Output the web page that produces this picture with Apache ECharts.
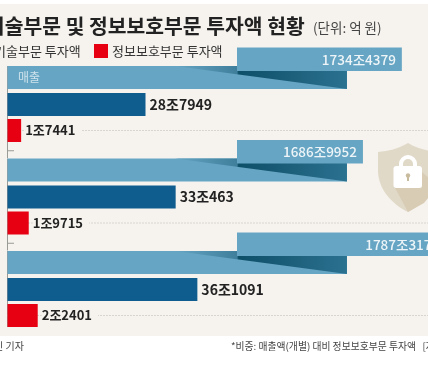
<!DOCTYPE html>
<html>
<head>
<meta charset="utf-8">
<style>
  html, body { margin: 0; padding: 0; background: #fff; }
  #chart { width: 428px; height: 374px; }
</style>
</head>
<body>
<div id="chart"></div>
<script src="https://cdn.jsdelivr.net/npm/echarts@6/dist/echarts.min.js"></script>
<script>
// values in 조 (1조 = 10000억)
const years = ['A', 'B', 'C'];
const salesValues = [1734.4379, 1686.9952, 1787.3174];
const salesLabels = ['1734조4379', '1686조9952', '1787조3174'];
const itValues = [28.7949, 33.0463, 36.1091];
const itLabels = ['28조7949', '33조463', '36조1091'];
const securityValues = [1.7441, 1.9715, 2.2401];
const securityLabels = ['1조7441', '1조9715', '2조2401'];

const FONT = '"Noto Sans CJK KR", "Noto Sans", sans-serif';
const LIGHT = '#66a5c3', DARK = '#0f5d8e', RED = '#e60012';

// the source draws each kind of bar on its own truncated scale
const SALES_MIN = 1253.5, SALES_MAX = 1863.3;
const BOX_START = 1533.4, RIBBON_END = 1667.5;
const IT_MIN = 9.33, IT_MAX = 79.85;
const SEC_MIN = 1.336, SEC_MAX = 16.3;

let chart = echarts.init(document.getElementById('chart'));

function renderSales(params, api) {
  const cat = api.value(1);
  const y = api.coord([SALES_MIN, cat])[1];
  const left = api.coord([SALES_MIN, cat])[0];
  const boxL = api.coord([BOX_START, cat])[0];
  const boxR = api.coord([api.value(0), cat])[0];
  const ribR = api.coord([RIBBON_END, cat])[0];
  const foldL = boxL - 62;
  const children = [
    { type: 'rect', shape: { x: left, y: y - 38.5, width: ribR - left, height: 23 }, style: { fill: LIGHT } },
    { type: 'polygon', shape: { points: [[foldL, y - 38.5], [ribR, y - 38.5], [ribR, y - 15.5]] },
      style: { fill: new echarts.graphic.LinearGradient(foldL, 0, ribR, 0, [
        { offset: 0, color: LIGHT },
        { offset: 0.36, color: '#3f7f9c' },
        { offset: 0.37, color: '#0e4f68' },
        { offset: 1, color: '#2b7190' }
      ], true) } },
    { type: 'rect', shape: { x: boxL, y: y - 57, width: boxR - boxL, height: 23.5 }, style: { fill: LIGHT } },
    { type: 'text', style: { text: salesLabels[params.dataIndex], x: boxR - 6, y: y - 45, align: 'right', verticalAlign: 'middle',
      fill: '#eef5f8', font: '500 13.5px ' + FONT } }
  ];
  if (params.dataIndex === 0) {
    children.push({ type: 'text', style: { text: '매출', x: 18, y: y - 27, align: 'left', verticalAlign: 'middle',
      fill: '#cfe3ec', font: '12px ' + FONT } });
  }
  return { type: 'group', children: children };
}

function renderIt(params, api) {
  const cat = api.value(1);
  const base = api.coord([IT_MIN, cat]);
  const end = api.coord([api.value(0), cat]);
  const y = base[1];
  const children = [
    { type: 'line', shape: { x1: base[0], y1: y - 38.5, x2: base[0], y2: params.dataIndex < 2 ? y + 53.5 : y + 37.5 },
      style: { stroke: '#9a9a96', lineWidth: 1 } },
    { type: 'rect', shape: { x: base[0], y: y - 11.5, width: end[0] - base[0], height: 23 }, style: { fill: DARK } },
    { type: 'text', style: { text: itLabels[params.dataIndex], x: end[0] + 4, y: y, align: 'left', verticalAlign: 'middle',
      fill: '#222', font: 'bold 14px ' + FONT } }
  ];
  if (params.dataIndex < 2) {
    children.push({ type: 'line', shape: { x1: base[0], y1: y + 46.25, x2: base[0] + 6.5, y2: y + 46.25 },
      style: { stroke: '#9a9a96', lineWidth: 1 } });
  }
  return { type: 'group', children: children };
}

function renderSecurity(params, api) {
  const cat = api.value(1);
  const base = api.coord([SEC_MIN, cat]);
  const end = api.coord([api.value(0), cat]);
  const y = base[1] + 26;
  return {
    type: 'group',
    children: [
      { type: 'line', shape: { x1: base[0], y1: y, x2: 428, y2: y },
        style: { stroke: '#b9b6b0', lineWidth: 1, lineDash: [1, 2] } },
      { type: 'rect', shape: { x: base[0], y: y - 11.5, width: end[0] - base[0], height: 23 }, style: { fill: RED } },
      { type: 'text', style: { text: securityLabels[params.dataIndex], x: end[0] + 4, y: y, align: 'left', verticalAlign: 'middle',
        fill: '#222', font: 'bold 13px ' + FONT, backgroundColor: '#f6f3ee', padding: [0, 6, 0, 0] } }
    ]
  };
}

// shield and lock icon
function renderIcon() {
  return {
    type: 'group',
    children: [
      { type: 'path', shape: { pathData: 'M408 143 C398 149 388 151 378 152 L378 172 C379 190 392 204 408 212 C424 204 437 190 438 172 L438 152 C428 151 418 149 408 143 Z', x: 378, y: 143, width: 60, height: 69 },
        style: { fill: '#e1d9c8' } },
      { type: 'polygon', shape: { points: [[422, 172], [438, 186], [424, 203], [408, 212], [395, 188], [422, 188]] },
        style: { fill: '#d8ccb5' } },
      { type: 'path', shape: { pathData: 'M399 167 L399 164 A9 9 0 0 1 417 164 L417 167 L413 167 L413 164 A5 5 0 0 0 403 164 L403 167 Z', x: 399, y: 155, width: 18, height: 12 },
        style: { fill: '#fff' } },
      { type: 'rect', shape: { x: 393.5, y: 166, width: 28.5, height: 22, r: 3 }, style: { fill: '#fff' } },
      { type: 'circle', shape: { cx: 408, cy: 175.5, r: 2.2 }, style: { fill: '#c9bb9e' } },
      { type: 'rect', shape: { x: 407, y: 176, width: 2, height: 5 }, style: { fill: '#c9bb9e' } }
    ]
  };
}

function rows(values) {
  return values.map(function (v, i) { return [v, i]; });
}

let options = {
  animation: false,
  backgroundColor: '#fff',
  grid: { left: 7.5, top: 58.25, width: 500, height: 277.5, outerBoundsMode: 'none' },
  xAxis: [
    { type: 'value', show: false, min: SALES_MIN, max: SALES_MAX },
    { type: 'value', show: false, min: IT_MIN, max: IT_MAX },
    { type: 'value', show: false, min: SEC_MIN, max: SEC_MAX }
  ],
  yAxis: { type: 'category', show: false, inverse: true, data: years },
  graphic: [
    { type: 'rect', z: -10, shape: { x: 0, y: 4, width: 428, height: 332 }, style: { fill: '#f6f3ee' } },
    // title, legend, footer
    { type: 'text', z: 5, style: { text: '기술부문 및 정보보호부문 투자액 현황', x: -14, y: 26.5, verticalAlign: 'middle', fill: '#222', font: 'bold 20.4px ' + FONT } },
    { type: 'text', z: 5, style: { text: '(단위: 억 원)', x: 313, y: 28, verticalAlign: 'middle', fill: '#444', font: '13.5px ' + FONT } },
    { type: 'text', z: 5, style: { text: '기술부문 투자액', x: -6, y: 51, verticalAlign: 'middle', fill: '#333', font: '13px ' + FONT } },
    { type: 'rect', z: 5, shape: { x: 94, y: 44, width: 14, height: 14 }, style: { fill: RED } },
    { type: 'text', z: 5, style: { text: '정보보호부문 투자액', x: 112, y: 51, verticalAlign: 'middle', fill: '#333', font: '13px ' + FONT } },
    { type: 'text', z: 5, style: { text: '민 기자', x: -6, y: 346, verticalAlign: 'middle', fill: '#444', font: '10px ' + FONT } },
    { type: 'text', z: 5, style: { text: '*비중: 매출액(개별) 대비 정보보호부문 투자액   [자료', x: 231, y: 346, verticalAlign: 'middle', fill: '#444', font: '9.8px ' + FONT } }
  ],
  series: [
    { type: 'custom', coordinateSystem: 'none', z: 1, silent: true, renderItem: renderIcon, data: [[0]] },
    { name: '매출', type: 'custom', xAxisIndex: 0, z: 3, clip: false, renderItem: renderSales, data: rows(salesValues) },
    { name: '정보기술부문 투자액', type: 'custom', xAxisIndex: 1, z: 2, clip: false, renderItem: renderIt, data: rows(itValues) },
    { name: '정보보호부문 투자액', type: 'custom', xAxisIndex: 2, z: 2, clip: false, renderItem: renderSecurity, data: rows(securityValues) }
  ]
};

chart.setOption(options);
</script>
</body>
</html>
